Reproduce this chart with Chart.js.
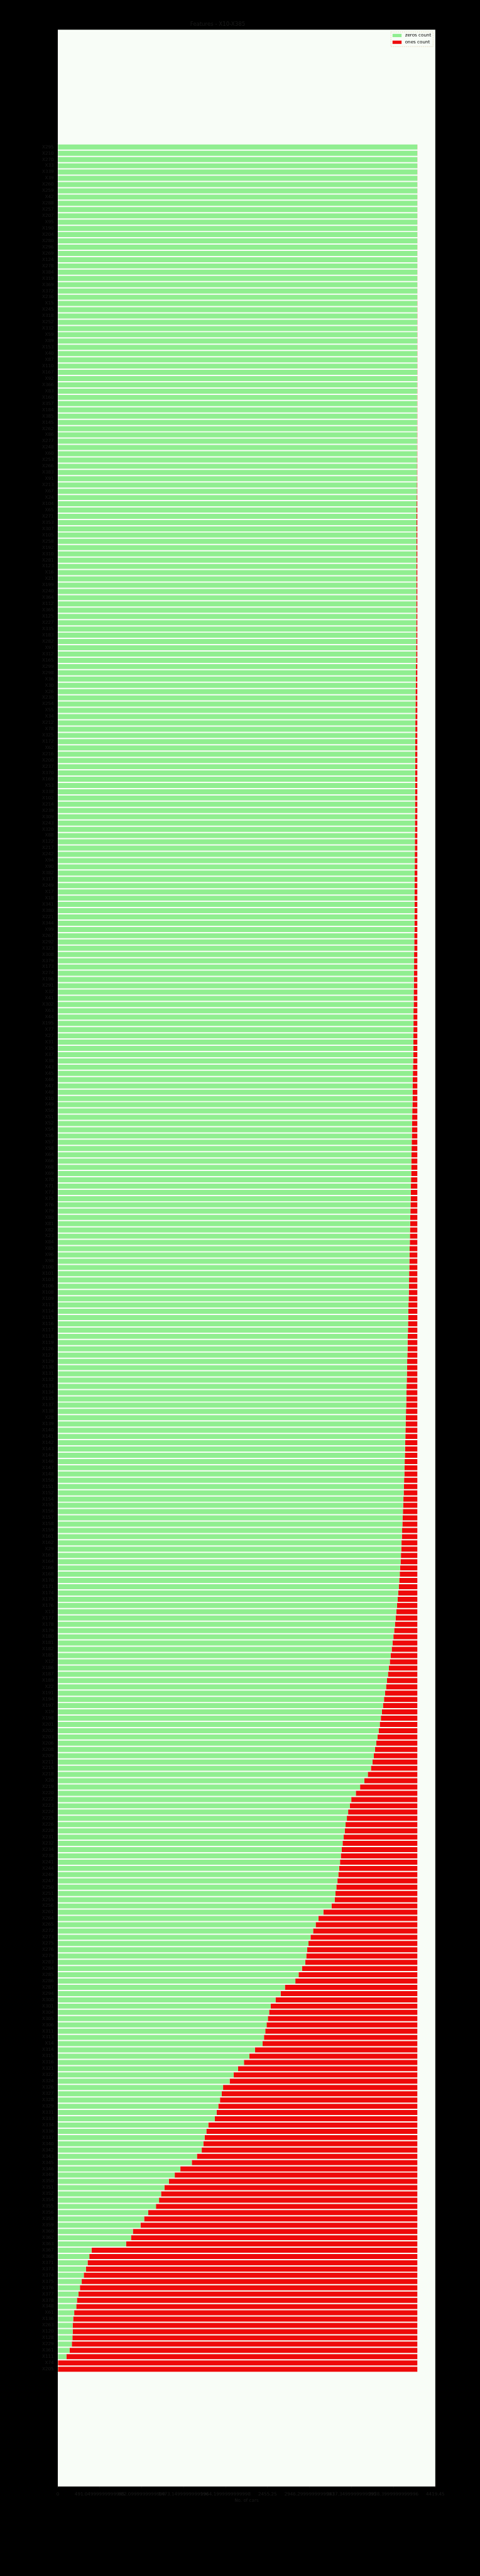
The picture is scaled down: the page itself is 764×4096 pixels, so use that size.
<!DOCTYPE html>
<html><head><meta charset="utf-8">
<script src="https://cdn.jsdelivr.net/npm/chart.js@4.4.1/dist/chart.umd.min.js"></script>
<style>html,body{margin:0;padding:0;background:#000;}canvas{display:block;}</style>
</head><body>
<canvas id="c" width="764" height="4096"></canvas>
<script>
// ---------------- data ----------------
const chartTitle = 'Features - X10-X385';
const xAxisTitle = 'No. of cars';
const seriesNames = ['zeros count', 'ones count'];
const xMaxValue = 4419.45;
const xTickStep = 500;

const features = [
 'X295','X210','X270','X33','X339','X39','X260','X259','X42','X288','X257','X207','X95','X190','X204','X280','X296','X269','X124','X278','X384','X319','X369','X372','X236','X15','X245','X318','X252','X332','X59','X89','X153','X40','X87',
 'X110','X167','X92','X366','X83','X160','X357','X184','X385','X145','X262','X86','X277','X248','X60','X253','X266','X383','X91','X213','X67','X24','X104','X65','X271','X353','X307','X105','X258','X192','X310','X281','X123','X16','X21','X199',
 'X240','X364','X112','X365','X125','X227','X335','X183','X282','X97','X312','X165','X299','X298','X36','X30','X26','X230','X254','X55','X34','X212','X78','X325','X172','X62','X216','X200','X237','X370','X169','X53','X338','X102','X214',
 'X239','X309','X243','X320','X88','X122','X217','X242','X94','X90','X382','X317','X249','X17','X18','X341','X380','X221','X344','X99','X267','X292','X323','X308','X379','X173','X274','X196','X291','X32','X41','X302','X63','X44','X195','X77',
 'X27','X31','X35','X37','X38','X43','X45','X46','X47','X48','X10',
 'X49','X50','X51','X52','X54','X56','X57','X58','X64','X66','X68','X69','X70','X71','X73','X75','X76','X79','X80','X81','X82','X23',
 'X84','X85','X96','X98','X100','X101','X103','X106','X108','X109','X113','X114','X115','X116','X117','X118','X119','X126','X127','X129','X130','X131','X132','X133','X134','X135','X137','X138','X28',
 'X139','X140','X141','X142','X143','X144','X146','X147','X148','X150','X151','X152','X154','X155','X156','X157','X158','X159','X161','X162','X29',
 'X163','X164','X166','X168','X170','X171','X174','X175','X176','X13',
 'X177','X178','X179','X180','X181','X182','X185','X12',
 'X186','X187','X189','X22','X191','X194','X197','X19',
 'X198','X201','X202','X203','X206','X208','X209','X211','X215','X218','X20',
 'X219','X220','X222','X223','X224','X225','X226','X228','X231','X232','X234','X238','X241','X244','X246','X247','X250','X251','X255','X256','X261','X264','X265','X272','X273','X275','X276','X279','X283','X284','X285','X286','X287','X294','X300','X301','X304','X305','X306','X311','X313','X14',
 'X314','X315','X316','X321','X322','X324','X326','X327','X328','X329','X331','X333','X334','X336','X337','X340','X342','X343','X345','X346','X349','X350','X351','X352','X354','X355','X356','X358','X359','X360','X362','X363','X367','X368','X371','X373','X374','X375','X376','X377','X378',
 'X348','X61','X136','X263','X120','X128','X229','X361','X111','X74','X205'
];

const onesCount = [
 1,1,1,1,1,1,1,1,1,1,1,1,1,1,1,1,1,1,1,1,1,1,1,1,1,
 2,2,2,2,2,2,2,2,2,2,2,2,2,
 3,3,3,3,3,3,3,
 4,4,4,4,4,
 5,5,5,5,
 6,6,7,8,
 9,9,9,9,
 10,10,10,10,10,
 11,11,11,11,11,11,
 12,12,12,12,
 13,13,13,14,14,14,16,16,18,19,
 21,21,21,22,22,23,23,23,24,24,24,
 25,25,25,26,26,26,27,27,27,28,28,28,29,29,29,
 30,30,30,31,31,31,32,33,33,33,34,34,34,
 36,36,36,38,38,38,41,41,41,43,43,43,45,45,45,45,
 46,46,47,48,49,51,52,54,55,
 56,56,57,59,60,62,63,64,66,67,
 68,70,71,72,74,75,77,78,80,81,83,84,86,87,88,
 90,91,93,94,96,97,99,100,102,104,105,107,109,110,112,
 114,115,117,119,120,122,124,126,127,129,
 131,133,135,137,139,140,142,144,146,148,150,152,155,
 157,160,163,166,169,172,175,178,181,185,188,192,
 196,201,206,212,218,224,231,238,
 246,254,262,271,280,290,
 300,311,322,333,344,355,366,378,390,402,414,
 427,440,453,466,
 480,495,510,525,543,
 580,620,670,720,773,
 790,810,825,840,850,862,875,
 885,895,905,915,925,935,948,958,968,
 1004,
 1100,1158,1190,1220,1250,1274,
 1290,1300,1312,
 1350,1390,1428,
 1550,1600,1660,1716,
 1735,1750,1765,1780,1795,1812,
 1900,1966,2030,
 2100,2150,2197,
 2274,2290,2310,2330,2350,2370,
 2447,2470,2490,2505,2524,
 2580,2640,
 2774,2840,2909,
 2960,3000,3024,3060,
 3150,3198,3240,
 3330,3352,
 3410,
 3813,3840,3860,3880,3905,3929,
 3950,3967,3985,
 3993,4017,4029,4035,4035,4038,4045,4071,4108,4206,4208
];

const zerosCount = [
 4208,4208,4208,4208,4208,4208,4208,4208,4208,4208,4208,4208,4208,4208,4208,4208,4208,4208,4208,4208,4208,4208,4208,4208,4208,
 4207,4207,4207,4207,4207,4207,4207,4207,4207,4207,4207,4207,4207,
 4206,4206,4206,4206,4206,4206,4206,
 4205,4205,4205,4205,4205,
 4204,4204,4204,4204,
 4203,4203,4202,4201,
 4200,4200,4200,4200,
 4199,4199,4199,4199,4199,
 4198,4198,4198,4198,4198,4198,
 4197,4197,4197,4197,
 4196,4196,4196,4195,4195,4195,4193,4193,4191,4190,
 4188,4188,4188,4187,4187,4186,4186,4186,4185,4185,4185,
 4184,4184,4184,4183,4183,4183,4182,4182,4182,4181,4181,4181,4180,4180,4180,
 4179,4179,4179,4178,4178,4178,4177,4176,4176,4176,4175,4175,4175,
 4173,4173,4173,4171,4171,4171,4168,4168,4168,4166,4166,4166,4164,4164,4164,4164,
 4163,4163,4162,4161,4160,4158,4157,4155,4154,
 4153,4153,4152,4150,4149,4147,4146,4145,4143,4142,
 4141,4139,4138,4137,4135,4134,4132,4131,4129,4128,4126,4125,4123,4122,4121,
 4119,4118,4116,4115,4113,4112,4110,4109,4107,4105,4104,4102,4100,4099,4097,
 4095,4094,4092,4090,4089,4087,4085,4083,4082,4080,
 4078,4076,4074,4072,4070,4069,4067,4065,4063,4061,4059,4057,4054,
 4052,4049,4046,4043,4040,4037,4034,4031,4028,4024,4021,4017,
 4013,4008,4003,3997,3991,3985,3978,3971,
 3963,3955,3947,3938,3929,3919,
 3909,3898,3887,3876,3865,3854,3843,3831,3819,3807,3795,
 3782,3769,3756,3743,
 3729,3714,3699,3684,3666,
 3629,3589,3539,3489,3436,
 3419,3399,3384,3369,3359,3347,3334,
 3324,3314,3304,3294,3284,3274,3261,3251,3241,
 3205,
 3109,3051,3019,2989,2959,2935,
 2919,2909,2897,
 2859,2819,2781,
 2659,2609,2549,2493,
 2474,2459,2444,2429,2414,2397,
 2309,2243,2179,
 2109,2059,2012,
 1935,1919,1899,1879,1859,1839,
 1762,1739,1719,1704,1685,
 1629,1569,
 1435,1369,1300,
 1249,1209,1185,1149,
 1059,1011,969,
 879,857,
 799,
 396,369,349,329,304,280,
 259,242,224,
 216,192,180,174,174,171,164,138,101,3,1
];

// ---------------- layout (reference px * scale) ----------------
const W = 764, H = 4096, S = W / 1063;
const plotLeft = 128 * S, plotRight = 964 * S, plotTop = 65.7 * S, plotBottom = 5501 * S;
const FONT = "'DejaVu Sans', sans-serif";
const txt = '#1a1a1a';
const tickFs = 10 * S, titleFs = 12 * S;
const tl = 3.5 * S;
const xTickPad = 5.2;
const xTitlePadTop = -3.7;
const xAxisH = tl + tickFs * 1.2 + 2 * xTickPad + tickFs * 1.2 + xTitlePadTop;
const N = features.length;
const yMargin = 0.05 * (N - 1 + 0.8);

const bgPlugin = {
  id: 'bg',
  beforeDraw(chart) {
    const {ctx, chartArea: a} = chart;
    ctx.save();
    ctx.fillStyle = '#000';
    ctx.fillRect(0, 0, chart.width, chart.height);
    ctx.fillStyle = '#f8fdf7';
    ctx.fillRect(a.left, a.top, a.right - a.left, a.bottom - a.top);
    ctx.restore();
  }
};

const legendPlugin = {
  id: 'boxLegend',
  afterDraw(chart) {
    const {ctx} = chart;
    const x0 = 865.7 * S, y0 = 70.7 * S, x1 = 959 * S, y1 = 103 * S;
    ctx.save();
    ctx.fillStyle = '#f8fdf7';
    ctx.fillRect(x0, y0, x1 - x0, y1 - y0);
    ctx.strokeStyle = '#d9c39a';
    ctx.lineWidth = 1;
    ctx.setLineDash([1, 2]);
    ctx.strokeRect(x0, y0, x1 - x0, y1 - y0);
    ctx.setLineDash([]);
    ctx.font = (10 * S) + 'px ' + FONT;
    ctx.textBaseline = 'middle';
    ctx.textAlign = 'left';
    chart.data.datasets.forEach((ds, i) => {
      const cy = (78.5 + i * 15) * S;
      ctx.fillStyle = ds.backgroundColor;
      ctx.fillRect(869.3 * S, cy - 3.6 * S, 20 * S, 7.2 * S);
      ctx.fillStyle = '#000';
      ctx.fillText(ds.label, 897 * S, cy);
    });
    ctx.restore();
  }
};

new Chart(document.getElementById('c'), {
  type: 'bar',
  data: {
    datasets: [
      { label: seriesNames[0], data: features.map((f, i) => ({x: zerosCount[i], y: i})), backgroundColor: '#90ee90', borderWidth: 0 },
      { label: seriesNames[1], data: features.map((f, i) => ({x: onesCount[i], y: i})), backgroundColor: '#ee0a0a', borderWidth: 0 }
    ]
  },
  plugins: [bgPlugin, legendPlugin],
  options: {
    indexAxis: 'y',
    responsive: false,
    maintainAspectRatio: false,
    devicePixelRatio: 1,
    animation: false,
    datasets: { bar: { barPercentage: 0.8, categoryPercentage: 1 } },
    layout: { padding: { left: 0, top: 0, right: W - plotRight, bottom: H - plotBottom - xAxisH } },
    plugins: {
      legend: { display: false },
      tooltip: { enabled: false },
      title: {
        display: true, text: chartTitle, color: txt,
        font: { family: FONT, size: titleFs, weight: 'normal', lineHeight: 1.2 },
        padding: { top: 54 * S - titleFs * 0.6, bottom: plotTop - (54 * S - titleFs * 0.6) - titleFs * 1.2 }
      }
    },
    scales: {
      x: {
        type: 'linear', position: 'bottom', stacked: true,
        min: 0, max: xMaxValue,
        ticks: { stepSize: xTickStep, includeBounds: false, autoSkip: false, maxRotation: 0,
                 padding: xTickPad, color: txt, font: { family: FONT, size: tickFs },
                 callback: v => String(v) },
        grid: { display: true, drawOnChartArea: false, drawTicks: true, tickLength: tl, color: '#111' },
        border: { display: false },
        title: { display: true, text: xAxisTitle, color: txt, font: { family: FONT, size: tickFs },
                 padding: { top: xTitlePadTop, bottom: 0 } }
      },
      y: {
        type: 'linear', reverse: true, stacked: true,
        min: -0.4 - yMargin, max: N - 1 + 0.4 + yMargin,
        afterBuildTicks(scale) { scale.ticks = features.map((f, i) => ({ value: i })); },
        afterFit(scale) { scale.width = plotLeft; },
        ticks: { autoSkip: false, padding: 3.9, color: txt, font: { family: FONT, size: tickFs },
                 callback: v => features[v] },
        grid: { display: true, drawOnChartArea: false, drawTicks: true, tickLength: tl, color: '#111' },
        border: { display: false }
      }
    }
  }
});
</script>
</body></html>
